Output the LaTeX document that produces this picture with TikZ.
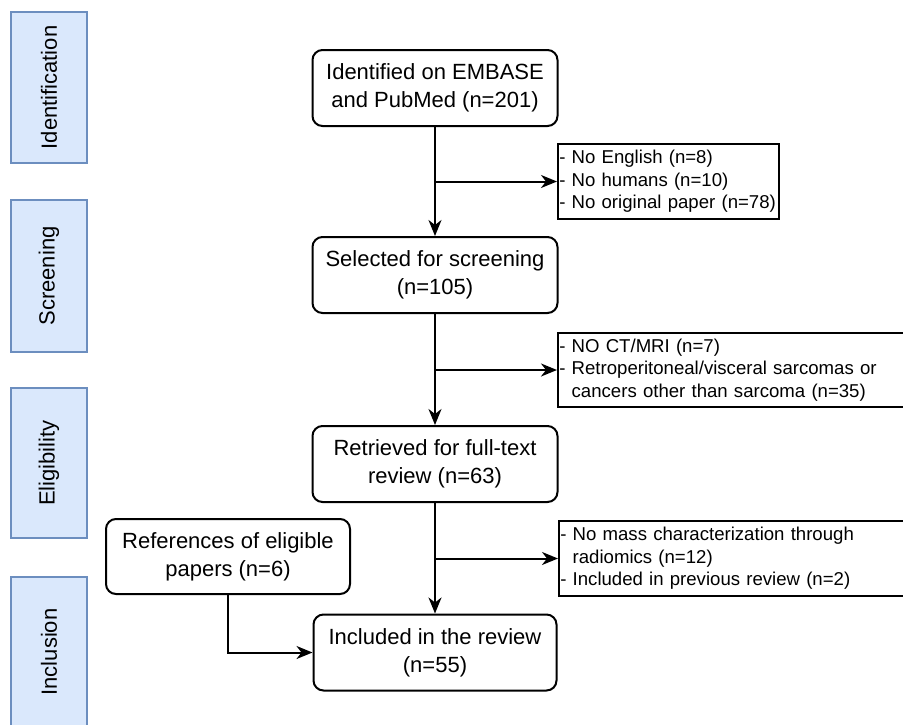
\documentclass[tikz,border=0pt]{standalone}
\usepackage{fontspec}
\setmainfont{Liberation Sans}
\usetikzlibrary{arrows.meta,positioning}
\definecolor{sidefill}{HTML}{DAE8FC}
\definecolor{sidedraw}{HTML}{6C8EBF}
\tikzset{
  mainbox/.style={draw=black, line width=2pt, rounded corners=10pt, fill=white,
    minimum width=245pt, minimum height=76pt, align=center, inner sep=2pt,
    font=\fontsize{22}{28}\selectfont},
  exbox/.style={draw=black, line width=1.6pt, anchor=west, minimum height=75pt,
    inner xsep=1.5pt, inner ysep=1pt, align=left, font=\fontsize{18.6}{22.5}\selectfont},
  sidebox/.style={draw=sidedraw, fill=sidefill, line width=1.3pt, minimum width=76pt,
    font=\fontsize{22}{26}\selectfont},
  sidelabel/.style={rotate=90, font=\fontsize{22}{26}\selectfont},
  arr/.style={line width=2pt, -{Stealth[length=16pt,width=13pt,inset=5pt]}},
  ln/.style={line width=2pt}
}
\begin{document}
\begin{tikzpicture}[x=1pt,y=-1pt]
\clip (0,0) rectangle (903,724);
\useasboundingbox (0,0) rectangle (903,724);
% side phase boxes
\node[sidebox, minimum height=151pt] (sid) at (49,87.5) {};
\node[sidelabel] (sidt) at (sid.center) {Identification};
\node[sidebox, minimum height=152pt] (sscr) at (49,276) {};
\node[sidelabel] (sscrt) at (sscr.center) {Screening};
\node[sidebox, minimum height=150pt] (selig) at (49,463) {};
\node[sidelabel] (seligt) at (selig.center) {Eligibility};
\node[sidebox, minimum height=170pt] (sinc) at (49,662) {};
\node[sidelabel] (sinct) at (49,652) {Inclusion};
% main flow
\node[mainbox] (id) at (435,88) {Identified on EMBASE\\and PubMed (n=201)};
\node[mainbox] (sel) at (435,275) {Selected for screening\\(n=105)};
\node[mainbox] (ret) at (435,464) {Retrieved for full-text\\review (n=63)};
\node[mainbox, minimum width=243pt] (inc) at (435,652.5) {Included in the review\\(n=55)};
\node[mainbox, minimum width=244pt, minimum height=75pt] (ref) at (228,556.5) {References of eligible\\papers (n=6)};
% exclusion boxes
\node[exbox, text width=218pt] (ex1) at (557,181.5) {- No English (n=8)\\- No humans (n=10)\\- No original paper (n=78)};
\node[exbox, text width=350pt, minimum height=74pt] (ex2) at (557,370) {- NO CT/MRI (n=7)\\- Retroperitoneal/visceral sarcomas or\\\hphantom{- }cancers other than sarcoma (n=35)};
\node[exbox, text width=350pt] (ex3) at (558,558.5) {- No mass characterization through\\\hphantom{- }radiomics (n=12)\\- Included in previous review (n=2)};
% connectors
\draw[arr] (id) -- (sel);
\draw[arr] (sel) -- (ret);
\draw[arr] (ret) -- (inc);
\coordinate (b1) at (id.south |- ex1.west);
\coordinate (b2) at (sel.south |- ex2.west);
\coordinate (b3) at (ret.south |- ex3.west);
\draw[arr] (b1) -- (ex1.west);
\draw[arr] (b2) -- (ex2.west);
\draw[arr] (b3) -- (ex3.west);
\draw[arr] (ref.south) |- (inc.west);
\end{tikzpicture}
\end{document}
